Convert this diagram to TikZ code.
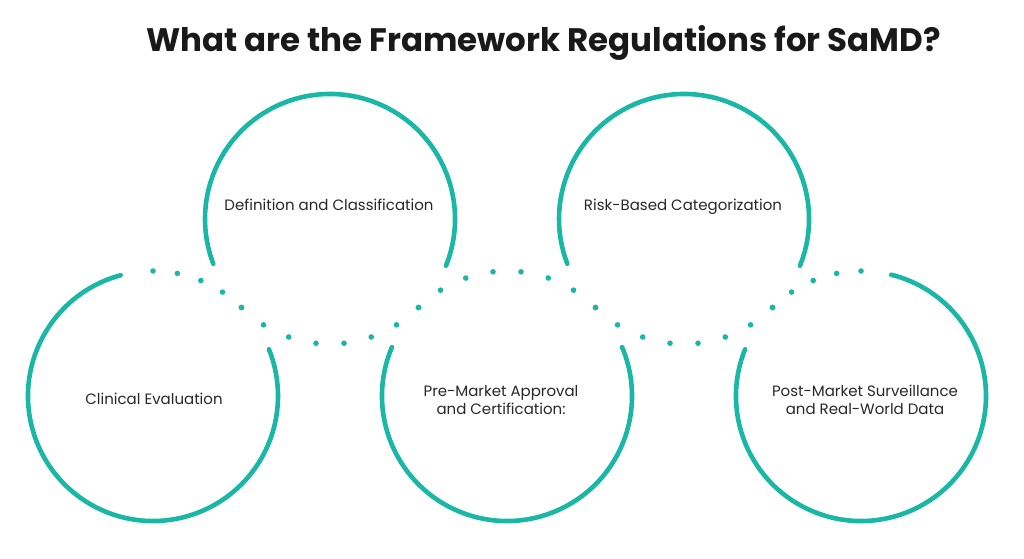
\documentclass[tikz,border=0pt]{standalone}
\usepackage{fontspec}
\setmainfont{Poppins}
\definecolor{ringteal}{RGB}{26,183,166}
\definecolor{inktext}{RGB}{40,40,40}
\tikzset{
	ring/.style={draw=ringteal, line width=4.6pt, line cap=round},
	label/.style={text=inktext, font=\fontsize{15}{18}\selectfont, align=center},
}
\begin{document}
\begin{tikzpicture}[x=1pt,y=1pt]
	\useasboundingbox (0,0) rectangle (1024,558);
	% title
	\node[text=black!90, font=\fontsize{32.5}{38}\selectfont\bfseries, anchor=base] (title) at (543.5,506) {What are the Framework Regulations for SaMD?};
	% ring centres
	\coordinate (c1) at (153,162);
	\coordinate (c2) at (330,339);
	\coordinate (c3) at (507,162);
	\coordinate (c4) at (684,339);
	\coordinate (c5) at (861,162);
	% solid arcs
	\draw[ring] ([shift={(105:125)}]c1) arc[start angle=105, end angle=382, radius=125];
	\draw[ring] ([shift={(-22:125)}]c2) arc[start angle=-22, end angle=201, radius=125];
	\draw[ring] ([shift={(157:125)}]c3) arc[start angle=157, end angle=383, radius=125];
	\draw[ring] ([shift={(-22:125)}]c4) arc[start angle=-22, end angle=201, radius=125];
	\draw[ring] ([shift={(158:125)}]c5) arc[start angle=158, end angle=436, radius=125];
	% dotted links
	\foreach \i in {0,...,4} {
		\fill[ringteal] ([shift={(45+\i*11.25:125)}]c1) circle (2.8);
		\fill[ringteal] ([shift={(90+\i*11.25:125)}]c5) circle (2.8);
	}
	\foreach \i in {0,...,7} {
		\fill[ringteal] ([shift={(225+\i*90/7:125)}]c2) circle (2.8);
		\fill[ringteal] ([shift={(45+\i*90/7:125)}]c3) circle (2.8);
		\fill[ringteal] ([shift={(225+\i*90/7:125)}]c4) circle (2.8);
	}
	% labels
	\node[label, anchor=base] (clin) at (154,154) {Clinical Evaluation};
	\node[label, anchor=base] (defn) at (329,348) {Definition and Classification};
	\node[label] (prem) at (501,158) {Pre-Market Approval\\and Certification:};
	\node[label, anchor=base] (risk) at (683,348) {Risk-Based Categorization};
	\node[label] (post) at (865,158) {Post-Market Surveillance\\and Real-World Data};
\end{tikzpicture}
\end{document}
